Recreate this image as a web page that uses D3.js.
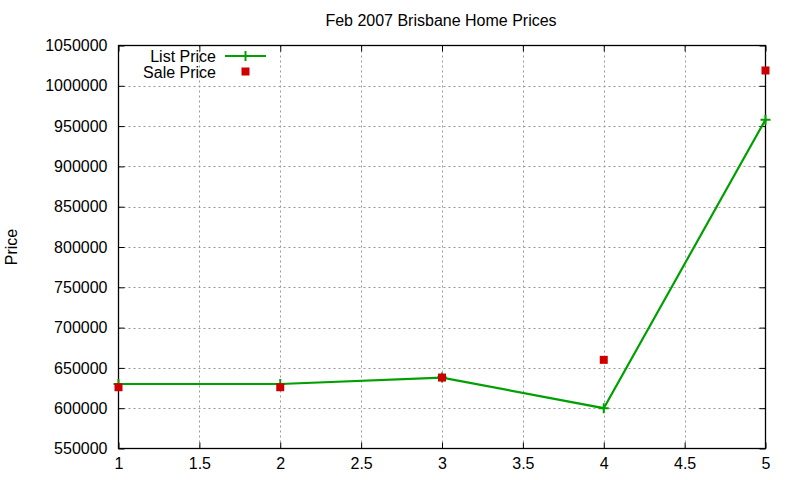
<!DOCTYPE html>
<html>
<head>
<meta charset="utf-8">
<script src="https://cdn.jsdelivr.net/npm/d3@7"></script>
<style>
  body { margin: 0; background: #fff; }
  text { font-family: "Liberation Sans", Arial, sans-serif; fill: #000; }
</style>
</head>
<body>
<svg id="canvas" width="800" height="480"></svg>
<script>
const months = [1, 2, 3, 4, 5];
const listPrice = [630000, 630000, 638000, 600000, 958000];
const salePrice = [626000, 626000, 638000, 660000, 1019000];
const xTicks = [1, 1.5, 2, 2.5, 3, 3.5, 4, 4.5, 5];
const yTicks = [550000, 600000, 650000, 700000, 750000, 800000, 850000, 900000, 950000, 1000000, 1050000];

(function () {
    const svg = d3.select("#canvas");
    const left = 118.5, right = 765.5, top = 45.5, bottom = 448.5;

    const x = d3.scaleLinear().domain([1, 5]).range([left, right]);
    const y = d3.scaleLinear().domain([550000, 1050000]).range([bottom, top]);

    // grid
    const grid = svg.append("g")
        .attr("stroke", "#999").attr("stroke-dasharray", "2,3").attr("stroke-width", 1);
    grid.selectAll(".gx").data(xTicks.slice(1, -1)).join("line")
        .attr("x1", d => Math.round(x(d)) + 0.5).attr("x2", d => Math.round(x(d)) + 0.5)
        .attr("y1", top).attr("y2", bottom);
    grid.selectAll(".gy").data(yTicks.slice(1, -1)).join("line")
        .attr("y1", d => Math.round(y(d)) + 0.5).attr("y2", d => Math.round(y(d)) + 0.5)
        .attr("x1", left).attr("x2", right);

    // axes, ticks inside and mirrored
    const fmt = d3.format("d");
    svg.append("g").attr("transform", `translate(0,${bottom})`)
        .call(d3.axisBottom(x).tickValues(xTicks).tickSize(-6).tickPadding(9).tickFormat(d => d))
        .call(g => g.select(".domain").remove())
        .selectAll("text").style("font-size", "16px");
    svg.append("g").attr("transform", `translate(0,${top})`)
        .call(d3.axisTop(x).tickValues(xTicks).tickSize(-6).tickFormat(""))
        .call(g => g.select(".domain").remove());
    svg.append("g").attr("transform", `translate(${left},0)`)
        .call(d3.axisLeft(y).tickValues(yTicks).tickSize(-6).tickPadding(11).tickFormat(fmt))
        .call(g => g.select(".domain").remove())
        .selectAll("text").style("font-size", "16px");
    svg.append("g").attr("transform", `translate(${right},0)`)
        .call(d3.axisRight(y).tickValues(yTicks).tickSize(-6).tickFormat(""))
        .call(g => g.select(".domain").remove());
    svg.selectAll(".tick line").attr("stroke", "#000");

    svg.append("rect").attr("x", left).attr("y", top)
        .attr("width", right - left).attr("height", bottom - top)
        .attr("fill", "none").attr("stroke", "#000").attr("stroke-width", 1.3);

    // list price line
    const pts = months.map((m, i) => [m, listPrice[i]]);
    svg.append("path").datum(pts)
        .attr("fill", "none").attr("stroke", "#00a000").attr("stroke-width", 2.2)
        .attr("d", d3.line().x(d => x(d[0])).y(d => y(d[1])));
    svg.append("g").selectAll("path").data(pts).join("path")
        .attr("stroke", "#00a000").attr("stroke-width", 2)
        .attr("d", d => `M${x(d[0]) - 5},${y(d[1])}h10M${x(d[0])},${y(d[1]) - 5}v10`);

    // sale price points
    svg.append("g").selectAll("rect").data(months).join("rect")
        .attr("x", (d, i) => x(d) - 4).attr("y", (d, i) => y(salePrice[i]) - 4)
        .attr("width", 8).attr("height", 8).attr("fill", "#cc0000");

    // legend
    svg.append("text").attr("x", 216).attr("y", 62).attr("text-anchor", "end")
        .style("font-size", "16px").text("List Price");
    svg.append("line").attr("x1", 225).attr("x2", 266).attr("y1", 56).attr("y2", 56)
        .attr("stroke", "#00a000").attr("stroke-width", 2.2);
    svg.append("path").attr("d", "M240.5,56h10M245.5,51v10")
        .attr("stroke", "#00a000").attr("stroke-width", 2);
    svg.append("text").attr("x", 216).attr("y", 78).attr("text-anchor", "end")
        .style("font-size", "16px").text("Sale Price");
    svg.append("rect").attr("x", 241.5).attr("y", 67.5).attr("width", 8).attr("height", 8)
        .attr("fill", "#cc0000");

    // title and y label
    svg.append("text").attr("x", 441).attr("y", 26).attr("text-anchor", "middle")
        .style("font-size", "16px").text("Feb 2007 Brisbane Home Prices");
    svg.append("text").attr("transform", "translate(17,247) rotate(-90)")
        .attr("text-anchor", "middle").style("font-size", "16px").text("Price");
})();
</script>
</body>
</html>
